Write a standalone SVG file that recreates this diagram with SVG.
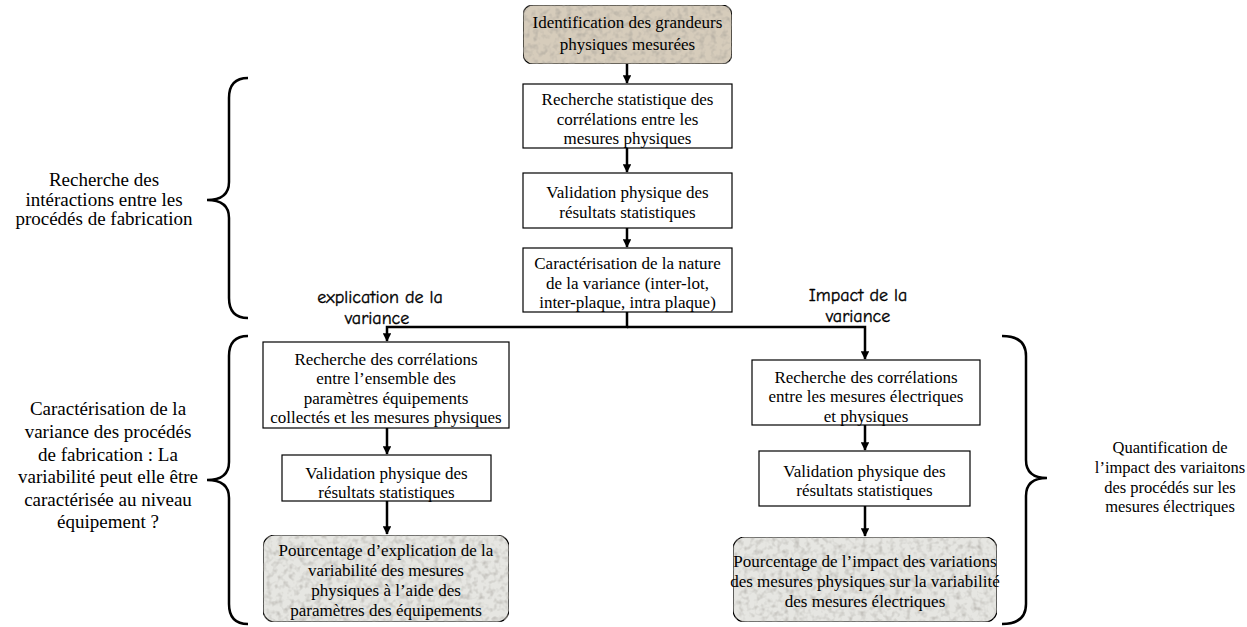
<svg xmlns="http://www.w3.org/2000/svg" width="1247" height="627" viewBox="0 0 1247 627">
<style>
.box{fill:#ffffff;stroke:#000;stroke-width:1.2}
.tan{fill:#d6ccbb;stroke:#000;stroke-width:1.2}
.grey{fill:#e6e6e2;stroke:#000;stroke-width:1.2}
.t{font-family:"Liberation Serif","Times New Roman",serif;font-size:17px;fill:#000;text-anchor:middle}
.lbl{font-family:"Liberation Serif","Times New Roman",serif;font-size:19px;fill:#000;text-anchor:middle}
.lblr{font-family:"Liberation Serif","Times New Roman",serif;font-size:16.5px;fill:#000;text-anchor:middle}
.br{font-family:"Comic Sans MS","Comic Neue","DejaVu Sans",sans-serif;font-size:18px;fill:#000;stroke:#000;stroke-width:0.35;text-anchor:middle}
.c{fill:none;stroke:#000;stroke-width:2.5}
.brace{fill:none;stroke:#000;stroke-width:2.5}
</style>
<defs>
<marker id="ah" viewBox="0 0 10 10" refX="9" refY="5" markerWidth="3.4" markerHeight="3.4" orient="auto" markerUnits="strokeWidth">
<path d="M0,0 L10,5 L0,10 z" fill="#000"/>
</marker>
<filter id="tex" x="0" y="0" width="1" height="1">
<feTurbulence type="fractalNoise" baseFrequency="0.18" numOctaves="2" seed="4" result="n"/>
<feColorMatrix in="n" type="matrix" values="0 0 0 0 0.35 0 0 0 0 0.33 0 0 0 0 0.3 1.4 0 0 0 -0.62" result="m"/>
<feComposite in="m" in2="SourceGraphic" operator="in" result="c"/>
<feMerge><feMergeNode in="SourceGraphic"/><feMergeNode in="c"/></feMerge>
</filter>
</defs>

<g id="connectors">
<line class="c" x1="627" y1="64" x2="627" y2="83" marker-end="url(#ah)"/>
<line class="c" x1="627" y1="148" x2="627" y2="172" marker-end="url(#ah)"/>
<line class="c" x1="627" y1="228" x2="627" y2="247" marker-end="url(#ah)"/>
<polyline class="c" points="627,312 627,327 387,327 387,341" marker-end="url(#ah)"/>
<polyline class="c" points="627,327 865,327 865,359" marker-end="url(#ah)"/>
<line class="c" x1="387" y1="428" x2="387" y2="454" marker-end="url(#ah)"/>
<line class="c" x1="387" y1="501" x2="387" y2="534" marker-end="url(#ah)"/>
<line class="c" x1="865" y1="425" x2="865" y2="450" marker-end="url(#ah)"/>
<line class="c" x1="865" y1="506" x2="865" y2="536" marker-end="url(#ah)"/>
</g>

<g id="n-identification">
<rect class="tan" x="523" y="5" width="209" height="59" rx="10" filter="url(#tex)"/>
<text class="t" x="627.5" y="28">Identification des grandeurs</text>
<text class="t" x="627.5" y="50">physiques mesurées</text>
</g>

<g id="n-recherche-stat">
<rect class="box" x="523" y="84" width="209" height="64"/>
<text class="t" x="627.5" y="105">Recherche statistique des</text>
<text class="t" x="627.5" y="125">corrélations entre les</text>
<text class="t" x="627.5" y="144">mesures physiques</text>
</g>

<g id="n-validation-1">
<rect class="box" x="523" y="173" width="209" height="55"/>
<text class="t" x="627.5" y="198">Validation physique des</text>
<text class="t" x="627.5" y="218">résultats statistiques</text>
</g>

<g id="n-caracterisation">
<rect class="box" x="523" y="248" width="209" height="64"/>
<text class="t" x="627.5" y="269">Caractérisation de la nature</text>
<text class="t" x="627.5" y="289">de la variance (inter-lot,</text>
<text class="t" x="627.5" y="308">inter-plaque, intra plaque)</text>
</g>

<g id="lbl-explication">
<text class="br" x="380" y="303">explication de la</text>
<text class="br" x="377" y="324">variance</text>
</g>

<g id="lbl-impact">
<text class="br" x="858" y="301">Impact de la</text>
<text class="br" x="858" y="322">variance</text>
</g>

<g id="n-left-recherche">
<rect class="box" x="263" y="342" width="246" height="86"/>
<text class="t" x="386" y="365">Recherche des corrélations</text>
<text class="t" x="386" y="384">entre l’ensemble des</text>
<text class="t" x="386" y="404">paramètres équipements</text>
<text class="t" x="386" y="423">collectés et les mesures physiques</text>
</g>

<g id="n-left-validation">
<rect class="box" x="282" y="455" width="209" height="46"/>
<text class="t" x="386.5" y="479">Validation physique des</text>
<text class="t" x="386.5" y="498">résultats statistiques</text>
</g>

<g id="n-left-pourcentage">
<rect class="grey" x="263" y="535" width="246" height="87" rx="12" filter="url(#tex)"/>
<text class="t" x="386" y="556">Pourcentage d’explication de la</text>
<text class="t" x="386" y="576">variabilité des mesures</text>
<text class="t" x="386" y="596">physiques à l’aide des</text>
<text class="t" x="386" y="616">paramètres des équipements</text>
</g>

<g id="n-right-recherche">
<rect class="box" x="752" y="360" width="228" height="65"/>
<text class="t" x="866" y="383">Recherche des corrélations</text>
<text class="t" x="866" y="402">entre les mesures électriques</text>
<text class="t" x="866" y="422">et physiques</text>
</g>

<g id="n-right-validation">
<rect class="box" x="759" y="451" width="211" height="55"/>
<text class="t" x="864.5" y="477">Validation physique des</text>
<text class="t" x="864.5" y="496">résultats statistiques</text>
</g>

<g id="n-right-pourcentage">
<rect class="grey" x="733" y="537" width="264" height="85" rx="12" filter="url(#tex)"/>
<text class="t" x="865" y="567">Pourcentage de l’impact des variations</text>
<text class="t" x="865" y="587">des mesures physiques sur la variabilité</text>
<text class="t" x="865" y="607">des mesures électriques</text>
</g>

<g id="brace-interactions">
<path class="brace" d="M248,78 Q229,78 229,98 L229,182 Q229,200 207,200 Q229,200 229,218 L229,298 Q229,318 248,318"/>
<text class="lbl" x="104" y="186">Recherche des</text>
<text class="lbl" x="104" y="206">intéractions entre les</text>
<text class="lbl" x="104" y="225">procédés de fabrication</text>
</g>

<g id="brace-caracterisation">
<path class="brace" d="M248,336 Q229,336 229,356 L229,462 Q229,480 207,480 Q229,480 229,498 L229,604 Q229,624 248,624"/>
<text class="lbl" x="108" y="415">Caractérisation de la</text>
<text class="lbl" x="108" y="438">variance des procédés</text>
<text class="lbl" x="108" y="461">de fabrication : La</text>
<text class="lbl" x="108" y="483">variabilité peut elle être</text>
<text class="lbl" x="108" y="506">caractérisée au niveau</text>
<text class="lbl" x="108" y="528">équipement ?</text>
</g>

<g id="brace-quantification">
<path class="brace" d="M1002,336 Q1026,336 1026,356 L1026,460 Q1026,478 1047,478 Q1026,478 1026,496 L1026,604 Q1026,624 1002,624"/>
<text class="lblr" x="1170" y="453">Quantification de</text>
<text class="lblr" x="1170" y="473">l’impact des variaitons</text>
<text class="lblr" x="1170" y="493">des procédés sur les</text>
<text class="lblr" x="1170" y="512">mesures électriques</text>
</g>
</svg>
